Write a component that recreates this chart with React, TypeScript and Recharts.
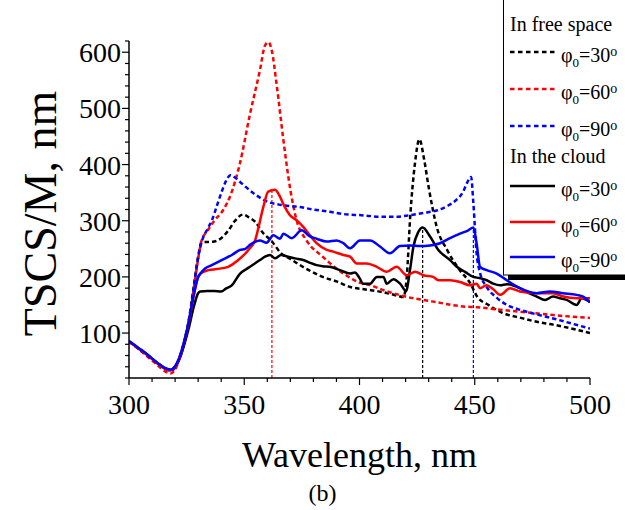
import React from 'react';
import { LineChart, Line, XAxis, YAxis, ReferenceLine, Legend } from 'recharts';

// [wavelength nm, TSCS/M nm]
const free30: [number, number][] = [
  [300, 85], [304, 73], [308, 61], [312, 48], [316, 37], [318, 34], [320, 40], [322, 58], [324, 86],
  [326, 125], [328, 180], [330, 236], [331.5, 262], [334, 262], [337, 263], [340, 269], [343, 282],
  [346, 300], [349.5, 311], [352, 306], [355, 297], [358, 279], [362, 263], [366, 242], [370, 232],
  [373, 224], [378, 212], [384, 200], [390, 192], [396, 182], [402, 178], [410, 173], [416, 167],
  [419, 164], [420.5, 200], [422, 307], [424, 400], [426, 445], [428, 410], [430, 360], [433.5, 289],
  [438, 248], [443.5, 212], [448, 189], [451, 165], [456, 150], [462, 136], [470, 127], [477, 120],
  [484, 115], [491, 109], [500, 100],
];
const free60: [number, number][] = [
  [300, 85], [304, 72], [308, 58], [312, 44], [316, 31], [318, 28], [320, 35], [322, 55], [324, 82],
  [326, 120], [328, 175], [330, 232], [331.5, 265], [334, 282], [337, 300], [341, 320], [344, 345],
  [348, 400], [352.5, 490], [356.8, 568], [359, 612], [360.5, 618], [362, 602], [364, 544], [367, 443],
  [370, 355], [372.7, 301], [377, 265], [384, 236], [393, 206], [400, 190], [405, 185], [410, 177],
  [420, 165], [432, 156], [446, 147], [451, 146], [460, 142], [470, 138], [484, 132], [500, 127],
];
const free90: [number, number][] = [
  [300, 85], [304, 73], [308, 60], [312, 47], [316, 36], [318, 33], [320, 38], [322, 56], [324, 83],
  [326, 122], [328, 177], [330, 234], [331.5, 262], [334, 285], [336, 301], [338, 325], [340, 349],
  [342, 370], [344, 381], [346, 377], [349, 366], [354, 349], [360, 334], [366, 328], [373, 325],
  [380, 320], [387, 316], [395, 311], [400, 310], [410, 307], [416, 307], [422, 310], [428, 314],
  [434, 319], [438, 326], [442, 337], [445, 352], [446.5, 366], [448.4, 378], [449.4, 331],
  [450.8, 242], [452.3, 207], [455.2, 182], [459.5, 163], [465, 148], [470, 141], [477, 133],
  [484, 126], [492, 117], [500, 108],
];
const cloud30: [number, number][] = [
  [300, 85], [304, 73], [308, 61], [312, 47], [316, 36], [318, 34], [320, 40], [322, 55], [324, 80],
  [326, 110], [328, 145], [330, 171], [331, 174], [334, 175], [337, 175], [340, 174], [342, 179],
  [344.6, 185], [348, 205], [352.5, 218], [356.8, 230], [359, 236], [361.2, 239], [363.3, 233],
  [366, 239], [369, 236], [372, 233], [375.6, 230], [378, 226], [381.4, 221], [384, 219], [387.2, 218],
  [391.5, 212], [396, 206], [398, 208], [400, 198], [401.6, 188], [404.6, 188], [407.5, 200],
  [410.4, 200], [411.8, 188], [414.7, 196], [417.6, 188], [420.2, 175], [421.9, 212], [423.4, 254],
  [425.5, 280], [427.4, 288], [430.6, 272], [434.2, 248], [439.3, 230], [442.2, 218], [445.8, 209],
  [449.4, 200], [452, 198], [455.2, 194], [458, 188], [461, 185], [464, 187], [469.6, 180], [473, 172],
  [476.9, 165], [480.5, 159], [484, 165], [487, 162], [489.9, 159], [494.2, 150], [496.4, 162],
  [500, 155],
];
const cloud60: [number, number][] = [
  [300, 85], [304, 73], [308, 61], [312, 47], [316, 36], [318, 34], [320, 40], [322, 57], [324, 85],
  [326, 120], [328, 165], [330, 200], [331, 206], [334.4, 212], [338, 214], [343, 218], [347.4, 230],
  [351.8, 248], [354.7, 265], [356, 285], [358.3, 325], [360.4, 352], [363.3, 355], [365.5, 343],
  [367.5, 325], [369.8, 310], [372.7, 301], [375.6, 289], [378.5, 274], [381.4, 260], [385.8, 248],
  [388.6, 245], [393, 239], [395.9, 236], [398.8, 224], [403, 224], [407.5, 218], [411.8, 209],
  [416.1, 218], [420.5, 203], [424.1, 209], [427.7, 203], [432, 200], [434.2, 194], [439.3, 194],
  [443.6, 191], [447.9, 185], [450.8, 188], [452.3, 180], [455, 185], [458, 178], [461, 168],
  [465.3, 180], [469.6, 174], [476.9, 171], [484, 171], [488.4, 165], [494.2, 162], [500, 162],
];
const cloud90: [number, number][] = [
  [300, 86], [304, 74], [308, 62], [312, 48], [316, 37], [318, 35], [320, 41], [322, 58], [324, 86],
  [326, 122], [328, 166], [330, 200], [331, 206], [333, 215], [335.9, 221], [340.2, 230], [344.6, 239],
  [348.2, 248], [350.5, 250], [352.5, 257], [356.8, 265], [359.7, 261], [362.6, 274], [365.5, 268],
  [367, 277], [370.6, 269], [374.9, 283], [378.5, 272], [381.4, 268], [385.8, 263], [390.1, 265],
  [393, 260], [395.9, 251], [400.2, 265], [404.6, 265], [408.9, 254], [413.2, 242], [417.6, 255],
  [421.9, 256], [426.3, 255], [430.6, 256], [434.9, 260], [439.3, 269], [443.6, 277], [447.2, 283],
  [449.4, 288], [450.8, 260], [452.3, 218], [455.2, 212], [459.5, 206], [463.9, 194], [469.6, 180],
  [476.9, 171], [482.6, 174], [488.4, 171], [494.2, 168], [497, 165], [500, 155],
];

// peak markers: [wavelength, value at top]
const peakRed: [number, number] = [362, 355];
const peakBlack: [number, number] = [427.4, 288];
const peakBlue: [number, number] = [449.4, 288];

const xTicks = [300, 310, 320, 330, 340, 350, 360, 370, 380, 390, 400, 410, 420, 430, 440, 450, 460, 470, 480, 490, 500];
const yTicks = [20, 40, 60, 80, 100, 120, 140, 160, 180, 200, 220, 240, 260, 280, 300, 320, 340, 360, 380, 400, 420, 440, 460, 480, 500, 520, 540, 560, 580, 600, 620];

const FONT = '"Liberation Serif", "Times New Roman", serif';
const DASH = '4.5 3';

const series = [
  { key: 'free30', angle: '30', group: 'free', color: '#000000', dashed: true, pts: free30 },
  { key: 'free60', angle: '60', group: 'free', color: '#ff0000', dashed: true, pts: free60 },
  { key: 'free90', angle: '90', group: 'free', color: '#0000ff', dashed: true, pts: free90 },
  { key: 'cloud30', angle: '30', group: 'cloud', color: '#000000', dashed: false, pts: cloud30 },
  { key: 'cloud60', angle: '60', group: 'cloud', color: '#ff0000', dashed: false, pts: cloud60 },
  { key: 'cloud90', angle: '90', group: 'cloud', color: '#0000ff', dashed: false, pts: cloud90 },
];

const toPts = (arr: [number, number][]) => arr.map(([wl, v]) => ({ wl, v }));

const BottomTick = (props: any) => {
  const { x, y, payload } = props;
  const major = payload.value % 50 === 0;
  return (
    <g>
      <line x1={x} x2={x} y1={y} y2={y + (major ? 7 : 4)} stroke="#000" strokeWidth={1.2} />
      {major && (
        <text x={x} y={y + 36} textAnchor="middle" fontSize={28} fontFamily={FONT} fill="#000">
          {payload.value}
        </text>
      )}
    </g>
  );
};

const TopTick = (props: any) => {
  const { x, y, payload } = props;
  const major = payload.value % 50 === 0;
  return <line x1={x} x2={x} y1={y} y2={y + (major ? 6 : 3)} stroke="#000" strokeWidth={1.2} />;
};

const LeftTick = (props: any) => {
  const { x, y, payload } = props;
  const major = payload.value % 100 === 0;
  return (
    <g>
      <line x1={x - (major ? 7 : 4)} x2={x} y1={y} y2={y} stroke="#000" strokeWidth={1.2} />
      {major && (
        <text x={x - 8} y={y + 10} textAnchor="end" fontSize={28} fontFamily={FONT} fill="#000">
          {payload.value}
        </text>
      )}
    </g>
  );
};

const RightTick = (props: any) => {
  const { x, y, payload } = props;
  const major = payload.value % 100 === 0;
  return <line x1={x - (major ? 6 : 3)} x2={x} y1={y} y2={y} stroke="#000" strokeWidth={1.2} />;
};

const XTitle = (props: any) => {
  const { x, width } = props.viewBox;
  const cx = x + width / 2;
  return (
    <g fontFamily={FONT} fill="#000">
      <text x={cx} y={467} textAnchor="middle" fontSize={36}>Wavelength, nm</text>
      <text x={cx - 37} y={501} textAnchor="middle" fontSize={24}>(b)</text>
    </g>
  );
};

const YTitle = (props: any) => {
  const { x, y, height } = props.viewBox;
  const cx = x - 29;
  const cy = y + height / 2 + 4;
  return (
    <text
      x={cx}
      y={cy}
      transform={`rotate(-90 ${cx} ${cy})`}
      textAnchor="middle"
      dominantBaseline="central"
      fontSize={46}
      fontFamily={FONT}
      fill="#000"
    >
      TSCS/M, nm
    </text>
  );
};

const TopTitle = (props: any) => {
  const { x, width } = props.viewBox;
  return (
    <text x={x + width / 2 - 38} y={3} textAnchor="middle" fontSize={24} fontFamily={FONT} fill="#000">
      (a)
    </text>
  );
};

const LegendBox = () => {
  const w = 140;
  const itemY = [52, 89, 126, 186, 222, 257];
  const items = series.map((s, i) => ({ ...s, y: itemY[i] }));
  return (
    <svg width={w + 10} height={285} style={{ display: 'block' }}>
      <rect x={5} y={3} width={w} height={277} fill="#000" />
      <rect x={0.5} y={-2} width={w} height={277} fill="#fff" stroke="#000" strokeWidth={1} />
      <g fontFamily={FONT} fontSize={20} fill="#000">
        <text x={7} y={31}>In free space</text>
        <text x={7} y={163}>In the cloud</text>
        {items.map((s) => (
          <g key={s.key}>
            <line
              x1={7}
              x2={52}
              y1={s.y}
              y2={s.y}
              stroke={s.color}
              strokeWidth={2.5}
              strokeDasharray={s.dashed ? '4.5 3.5' : undefined}
            />
            <text x={58} y={s.y + 10}>
              φ
              <tspan fontSize={13} dy={5}>0</tspan>
              <tspan dy={-5}>={s.angle}</tspan>
              <tspan fontSize={14} dy={-6}>o</tspan>
            </text>
          </g>
        ))}
      </g>
    </svg>
  );
};

export default function App() {
  const dashed = series.filter((s) => s.dashed);
  const solid = series.filter((s) => !s.dashed);
  return (
    <div
      style={{
        position: 'absolute',
        left: 0,
        top: 0,
        width: 625,
        height: 510,
        overflow: 'hidden',
        background: '#fff',
      }}
    >
      <LineChart width={625} height={510} margin={{ top: 41, right: 35, bottom: 102, left: 69 }}>
        <XAxis
          xAxisId="b"
          dataKey="wl"
          type="number"
          domain={[300, 500]}
          ticks={xTicks}
          interval={0}
          allowDataOverflow
          tickLine={false}
          tickSize={0}
          tickMargin={0}
          tick={<BottomTick />}
          height={30}
          axisLine={{ stroke: '#000', strokeWidth: 1.5 }}
          label={<XTitle />}
        />
        <XAxis
          xAxisId="t"
          orientation="top"
          dataKey="wl"
          type="number"
          domain={[300, 500]}
          ticks={xTicks}
          interval={0}
          allowDataOverflow
          tickLine={false}
          tickSize={0}
          tickMargin={0}
          tick={<TopTick />}
          height={0}
          axisLine={{ stroke: '#000', strokeWidth: 1.5 }}
          label={<TopTitle />}
        />
        <YAxis
          yAxisId="l"
          type="number"
          domain={[20, 620]}
          ticks={yTicks}
          interval={0}
          allowDataOverflow
          tickLine={false}
          tickSize={0}
          tickMargin={0}
          tick={<LeftTick />}
          width={60}
          axisLine={{ stroke: '#000', strokeWidth: 1.5 }}
          label={<YTitle />}
        />
        <YAxis
          yAxisId="r"
          orientation="right"
          type="number"
          domain={[20, 620]}
          ticks={yTicks}
          interval={0}
          allowDataOverflow
          tickLine={false}
          tickSize={0}
          tickMargin={0}
          tick={<RightTick />}
          width={0}
          axisLine={{ stroke: '#000', strokeWidth: 1.5 }}
        />
        <ReferenceLine
          xAxisId="b"
          yAxisId="l"
          segment={[{ x: peakRed[0], y: 20 }, { x: peakRed[0], y: peakRed[1] }]}
          stroke="#ff0000"
          strokeWidth={1.2}
          strokeDasharray="3 2"
        />
        <ReferenceLine
          xAxisId="b"
          yAxisId="l"
          segment={[{ x: peakBlack[0], y: 20 }, { x: peakBlack[0], y: peakBlack[1] }]}
          stroke="#000000"
          strokeWidth={1.2}
          strokeDasharray="3 2"
        />
        <ReferenceLine
          xAxisId="b"
          yAxisId="l"
          segment={[{ x: peakBlue[0], y: 20 }, { x: peakBlue[0], y: peakBlue[1] }]}
          stroke="#0000ff"
          strokeWidth={1.2}
          strokeDasharray="3 2"
        />
        {dashed.map((s) => (
          <Line
            key={s.key}
            xAxisId="b"
            yAxisId="l"
            data={toPts(s.pts)}
            dataKey="v"
            type="monotone"
            stroke={s.color}
            strokeWidth={2.5}
            strokeDasharray={DASH}
            dot={false}
            activeDot={false}
            isAnimationActive={false}
          />
        ))}
        {solid.map((s) => (
          <Line
            key={s.key}
            xAxisId="b"
            yAxisId="l"
            data={toPts(s.pts)}
            dataKey="v"
            type="monotone"
            stroke={s.color}
            strokeWidth={2.5}
            dot={false}
            activeDot={false}
            isAnimationActive={false}
          />
        ))}
        <Legend
          layout="vertical"
          align="center"
          verticalAlign="middle"
          content={<LegendBox />}
          wrapperStyle={{ position: 'absolute', left: 503, top: 0, width: 150, height: 285, margin: 0, padding: 0 }}
        />
      </LineChart>
    </div>
  );
}
